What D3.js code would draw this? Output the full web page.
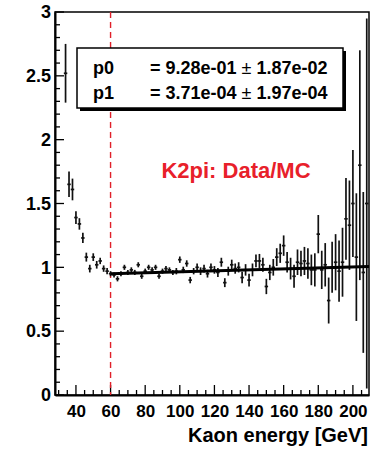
<!DOCTYPE html>
<html><head><meta charset="utf-8">
<script src="https://cdnjs.cloudflare.com/ajax/libs/d3/7.8.5/d3.min.js"></script>
<style>body{margin:0;background:#fff}svg{display:block}text{font-family:"Liberation Sans",Arial,sans-serif;font-weight:bold}</style>
</head><body>
<svg id="c" width="378" height="454"></svg>
<script>
// ---- data ----
const binCenters = [34,36,38,40,42,44,46,48,50,52,54,56,58,
 60,62,64,66,68,70,72,74,76,78,80,82,84,86,88,90,92,94,96,98,
 100,102,104,106,108,110,112,114,116,118,120,122,124,126,128,130,
 132,134,136,138,140,142,144,146,148,150,152,154,156,158,160,162,
 164,166,168,170,172,174,176,178,180,182,184,186,188,190,192,194,
 196,198,200,202,204,206,208];
const ratio = [2.52,1.65,1.61,1.39,1.34,1.23,1.08,0.99,1.08,1.02,1.05,0.99,0.97,
 0.95,0.94,0.91,0.95,1.00,0.96,0.98,0.96,1.02,0.93,0.97,1.00,0.98,1.00,0.93,0.97,0.99,0.98,0.96,0.97,
 1.06,0.98,1.03,0.90,0.97,1.00,0.97,0.99,0.95,1.00,0.98,0.96,1.04,0.88,0.97,1.02,
 0.99,1.00,0.92,0.98,0.90,0.98,1.05,1.05,1.02,0.85,0.96,1.00,1.08,1.11,1.17,1.04,
 0.99,0.93,1.04,1.03,1.05,1.03,0.98,0.98,1.26,0.98,1.02,0.74,1.00,1.04,0.97,1.04,
 1.38,1.33,1.50,1.08,1.80,0.96,1.50];
const ratioErr = [0.23,0.10,0.085,0.05,0.045,0.04,0.035,0.03,0.03,0.03,0.025,0.025,0.025,
 0.02,0.02,0.02,0.02,0.02,0.02,0.02,0.02,0.02,0.02,0.02,0.02,0.02,0.02,0.02,0.02,0.02,0.02,0.02,0.025,
 0.025,0.025,0.025,0.025,0.025,0.03,0.03,0.03,0.03,0.03,0.03,0.035,0.035,0.035,0.035,0.04,
 0.04,0.04,0.045,0.045,0.05,0.05,0.05,0.055,0.055,0.06,0.06,0.065,0.07,0.075,0.08,0.08,
 0.085,0.09,0.1,0.1,0.11,0.12,0.12,0.13,0.15,0.15,0.17,0.18,0.2,0.22,0.24,0.27,
 0.32,0.35,0.42,0.5,0.9,0.63,1.45];
const binHalfWidth = 1;
const fitP0 = 0.928, fitP1 = 3.71e-4;
const fitRange = [60, 209.3];
const cutValue = 60;
const xTicks = [40,60,80,100,120,140,160,180,200];
const yTicks = [0,0.5,1,1.5,2,2.5,3];
const xDomain = [27.9, 209.3];
const yDomain = [0, 3];
const statLabels = ["p0","p1"];
const statValues = ["= 9.28e-01","= 3.71e-04"];
const statErrors = ["1.87e-02","1.97e-04"];
const titleText = "K2pi: Data/MC";
const xTitle = "Kaon energy [GeV]";

// ---- layout ----
const svg = d3.select("#c");
const L = 55, R = 369, T = 12, B = 395;
const x = d3.scaleLinear().domain(xDomain).range([L, R]);
const y = d3.scaleLinear().domain(yDomain).range([B, T]);

svg.append("defs").append("clipPath").attr("id","clip")
  .append("rect").attr("x",L).attr("y",T).attr("width",R-L).attr("height",B-T);

// frame
svg.append("rect").attr("x",L).attr("y",T).attr("width",R-L).attr("height",B-T)
  .attr("fill","none").attr("stroke","#000").attr("stroke-width",1.5);

// y axis
const yAx = svg.append("g").attr("transform",`translate(${L},0)`)
  .call(d3.axisLeft(y).tickValues(yTicks).tickSize(0).tickPadding(4).tickFormat(d=>d3.format("~g")(d)));
yAx.select(".domain").attr("stroke-width",2);
yAx.selectAll("text").attr("font-size",18).attr("fill","#000").attr("font-family",'"Liberation Sans",Arial,sans-serif').attr("font-weight","bold");
const yMinor = d3.range(0, 3.001, 0.1);
svg.append("g").selectAll("line").data(yMinor).join("line")
  .attr("x1",L).attr("x2",d=> Math.abs(d*2-Math.round(d*2))<1e-6 ? L+9 : L+5)
  .attr("y1",d=>y(d)).attr("y2",d=>y(d)).attr("stroke","#000").attr("stroke-width",1.3);

// x axis
const xAx = svg.append("g").attr("transform",`translate(0,${B})`)
  .call(d3.axisBottom(x).tickValues(xTicks).tickSize(0).tickPadding(10));
xAx.select(".domain").attr("stroke-width",2);
xAx.selectAll("text").attr("font-size",17).attr("fill","#000").attr("font-family",'"Liberation Sans",Arial,sans-serif').attr("font-weight","bold");
const xMinor = d3.range(30, 210, 5);
svg.append("g").selectAll("line").data(xMinor).join("line")
  .attr("x1",d=>x(d)).attr("x2",d=>x(d))
  .attr("y1",B).attr("y2",d=> d%20===0 ? B-10 : B-5).attr("stroke","#000").attr("stroke-width",1.3);

// x title
svg.append("text").attr("x",368).attr("y",442).attr("text-anchor","end")
  .attr("font-size",20).text(xTitle);

// cut line
svg.append("line").attr("x1",x(cutValue)).attr("x2",x(cutValue)).attr("y1",T).attr("y2",B)
  .attr("stroke","#e0202a").attr("stroke-width",1.4).attr("stroke-dasharray","6,4");

// data
const plot = svg.append("g").attr("clip-path","url(#clip)");
const pts = binCenters.map((c,i)=>({c, v:ratio[i], e:ratioErr[i]}));
plot.selectAll("line.ey").data(pts).join("line").attr("class","ey")
  .attr("x1",d=>x(d.c)).attr("x2",d=>x(d.c))
  .attr("y1",d=>y(d.v-d.e)).attr("y2",d=>y(d.v+d.e))
  .attr("stroke","#111").attr("stroke-width",1.7);
plot.selectAll("line.ex").data(pts).join("line").attr("class","ex")
  .attr("x1",d=>x(d.c-binHalfWidth)).attr("x2",d=>x(d.c+binHalfWidth))
  .attr("y1",d=>y(d.v)).attr("y2",d=>y(d.v))
  .attr("stroke","#111").attr("stroke-width",1.7);

// fit
plot.append("path").datum(fitRange)
  .attr("d", d3.line().x(d=>x(d)).y(d=>y(fitP0+fitP1*d)))
  .attr("stroke","#000").attr("stroke-width",3).attr("fill","none");

// stats box
const bx=77, by=48, bw=266, bh=60;
svg.append("rect").attr("x",bx+3).attr("y",by+3).attr("width",bw).attr("height",bh).attr("fill","#000");
svg.append("rect").attr("x",bx).attr("y",by).attr("width",bw).attr("height",bh)
  .attr("fill","#fff").attr("stroke","#000").attr("stroke-width",1.5);
statLabels.forEach((lab,i)=>{
  const yy = 74 + i*25;
  svg.append("text").attr("x",93).attr("y",yy).attr("font-size",18).text(lab);
  const t = svg.append("text").attr("x",150).attr("y",yy).attr("font-size",18);
  t.append("tspan").text(statValues[i]+" ");
  t.append("tspan").attr("font-weight","normal").text("\u00b1");
  t.append("tspan").text(" "+statErrors[i]);
});

// red title
svg.append("text").attr("x",236).attr("y",178).attr("text-anchor","middle")
  .attr("font-size",22).attr("fill","#e8202a").text(titleText);
</script>
</body></html>
